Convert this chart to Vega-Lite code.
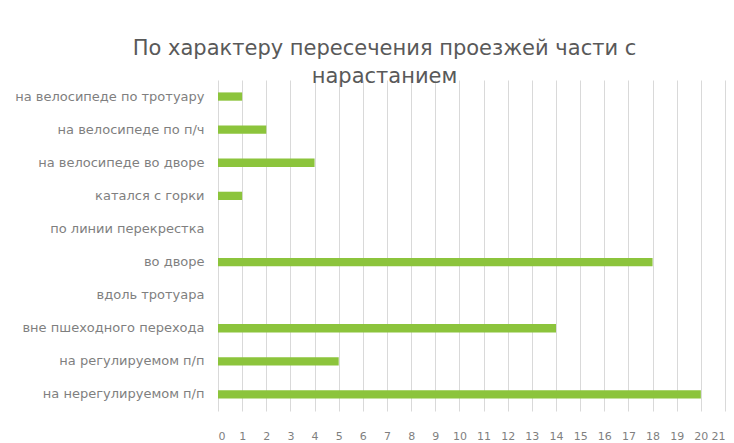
{
  "$schema": "https://vega.github.io/schema/vega-lite/v6.json",
  "autosize": {"type": "none"},
  "width": 507,
  "height": 331,
  "padding": {"left": 218, "top": 80, "right": 9, "bottom": 32},
  "background": "white",
  "title": {
    "text": ["По характеру пересечения проезжей части с", "нарастанием"],
    "anchor": "middle",
    "frame": "group",
    "dx": -87,
    "offset": -7,
    "fontSize": 21,
    "fontWeight": "normal",
    "font": "DejaVu Sans",
    "color": "#595959",
    "lineHeight": 28
  },
  "data": {
    "values": [
      {"cat": "на велосипеде по тротуару", "val": 1},
      {"cat": "на велосипеде по п/ч", "val": 2},
      {"cat": "на велосипеде во дворе", "val": 4},
      {"cat": "катался с горки", "val": 1},
      {"cat": "по линии перекрестка", "val": 0},
      {"cat": "во дворе", "val": 18},
      {"cat": "вдоль тротуара", "val": 0},
      {"cat": "вне пшеходного перехода", "val": 14},
      {"cat": "на регулируемом п/п", "val": 5},
      {"cat": "на нерегулируемом п/п", "val": 20}
    ]
  },
  "mark": {"type": "bar", "color": "#8cc43c"},
  "encoding": {
    "y": {
      "field": "cat",
      "type": "nominal",
      "sort": null,
      "scale": {"paddingInner": 0.75, "paddingOuter": 0.375},
      "axis": {
        "title": null,
        "ticks": false,
        "domain": false,
        "labelFont": "DejaVu Sans",
        "labelFontSize": 13,
        "labelColor": "#7f7f7f",
        "labelPadding": 14,
        "labelLimit": 260
      }
    },
    "x": {
      "field": "val",
      "type": "quantitative",
      "scale": {"domain": [0, 21], "nice": false},
      "axis": {
        "title": null,
        "values": [0,1,2,3,4,5,6,7,8,9,10,11,12,13,14,15,16,17,18,19,20,21],
        "ticks": false,
        "domain": false,
        "grid": true,
        "gridColor": "#d9d9d9",
        "labelFont": "DejaVu Sans",
        "labelFontSize": 11,
        "labelColor": "#7f7f7f",
        "labelPadding": 19,
        "labelOverlap": false
      }
    }
  },
  "config": {"view": {"stroke": null}}
}
